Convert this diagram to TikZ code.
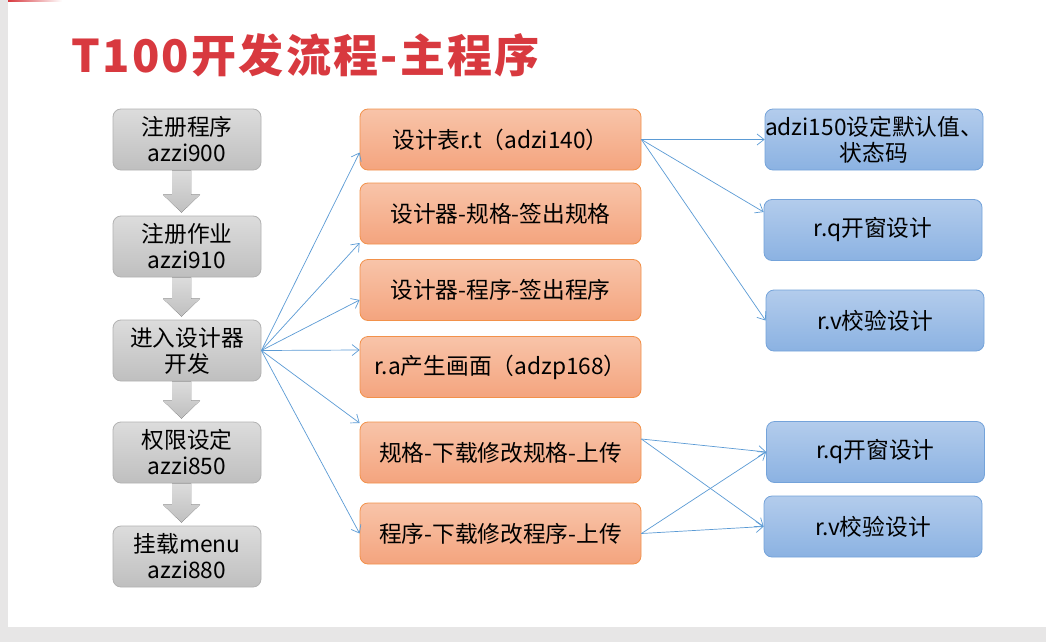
\documentclass[tikz,border=0pt]{standalone}
\usepackage{fontspec}
\setmainfont{Noto Sans CJK SC}
\newfontfamily\titlefont{Noto Sans CJK SC}[LetterSpace=5]
\usepackage{tikz}
\usetikzlibrary{arrows.meta,calc}
\definecolor{TitleRed}{HTML}{D8393F}
\definecolor{SlideGray}{HTML}{E7E6E6}
\definecolor{LinkBlue}{HTML}{5B9BD5}
\definecolor{StepTop}{HTML}{DCDCDC}
\definecolor{StepBottom}{HTML}{BFBFBF}
\definecolor{StepLine}{HTML}{B2B2B2}
\definecolor{TaskTop}{HTML}{F8C4A9}
\definecolor{TaskBottom}{HTML}{F4A47E}
\definecolor{TaskLine}{HTML}{F2914A}
\definecolor{SubTop}{HTML}{B3CCEC}
\definecolor{SubBottom}{HTML}{8BB2E2}
\definecolor{SubLine}{HTML}{74A3DA}
\tikzset{
  box/.style={rectangle, rounded corners=8pt, minimum height=61pt, align=center,
    line width=0.8pt, font=\fontsize{22.7}{26}\selectfont, text=black},
  stepbox/.style={box, minimum width=148pt, draw=StepLine, top color=StepTop, bottom color=StepBottom},
  taskbox/.style={box, minimum width=281pt, draw=TaskLine, top color=TaskTop, bottom color=TaskBottom},
  subbox/.style={box, minimum width=218pt, draw=SubLine, top color=SubTop, bottom color=SubBottom},
  flowarrow/.style={top color=StepTop, bottom color=StepBottom},
  link/.style={draw=LinkBlue, line width=0.7pt, -{Straight Barb[length=7pt,width=11pt]}}
}
\begin{document}
\begin{tikzpicture}[x=1pt,y=-1pt]
    % slide
    \fill[SlideGray] (0,0) rectangle (1046,642);
    \fill[white] (8,0) rectangle (1046,627);
    \shade[left color=TitleRed, right color=white] (8,0) rectangle (62,2);
    \useasboundingbox (0,0) rectangle (1046,642);
    \node[anchor=west, text=TitleRed, font=\titlefont\fontsize{45}{50}\selectfont\bfseries] (title) at (68,55) {T100开发流程-主程序};
    % left column
    \foreach \name/\y/\txt in {g1/139.5/{注册程序\\azzi900}, g2/246.5/{注册作业\\azzi910},
      g3/350.5/{进入设计器\\开发}, g4/452.5/{权限设定\\azzi850}, g5/556.5/{挂载menu\\azzi880}} {
     \node[stepbox] (\name) at (187,\y) {\txt};
    }
    \foreach \a/\b in {g1/g2,g2/g3,g3/g4,g4/g5} {
     \fill[flowarrow] ($(\a.south)+(-15,0)$) -- ($(\b.north)+(-15,-21)$) -- ($(\b.north)+(-24,-21)$)
       -- ($(\b.north)+(-5.5,-3)$) -- ($(\b.north)+(13,-21)$) -- ($(\b.north)+(4,-21)$)
       -- ($(\a.south)+(4,0)$) -- cycle;
    }
    % middle column
    \foreach \name/\y/\txt in {o1/139.5/{设计表r.t（adzi140）}, o2/213.5/{设计器-规格-签出规格},
      o3/290/{设计器-程序-签出程序}, o4/367/{r.a产生画面（adzp168）},
      o5/452.5/{规格-下载修改规格-上传}, o6/533.5/{程序-下载修改程序-上传}} {
     \node[taskbox] (\name) at (500.5,\y) {\txt};
    }
    % right column
    \foreach \name/\x/\y/\txt in {b1/874/139.5/{\makebox[200pt]{adzi150设定默认值、}\\状态码}, b2/873/230/{r.q开窗设计},
      b3/875/320.5/{r.v校验设计}, b4/875.5/452/{r.q开窗设计}, b5/873/526.5/{r.v校验设计}} {
     \node[subbox] (\name) at (\x,\y) {\txt};
    }
    % links
    \foreach \t/\dy in {o1/13, o2/29.5, o3/10, o4/-17, o5/-29.5, o6/0} {
     \draw[link] (g3.east) -- ($(\t.west)+(0,\dy)$);
    }
    \draw[link] (o1.east) -- (b1.west);
    \draw[link] (o1.east) -- ($(b2.west)+(0,-18)$);
    \draw[link] (o1.east) -- (b3.west);
    \coordinate (o5out) at ($(o5.east)+(0,-13.5)$);
    \draw[link] (o5out) -- (b4.west);
    \draw[link] (o5out) -- (b5.west);
    \draw[link] (o6.east) -- (b4.west);
    \draw[link] (o6.east) -- (b5.west);
   \end{tikzpicture}
\end{document}
